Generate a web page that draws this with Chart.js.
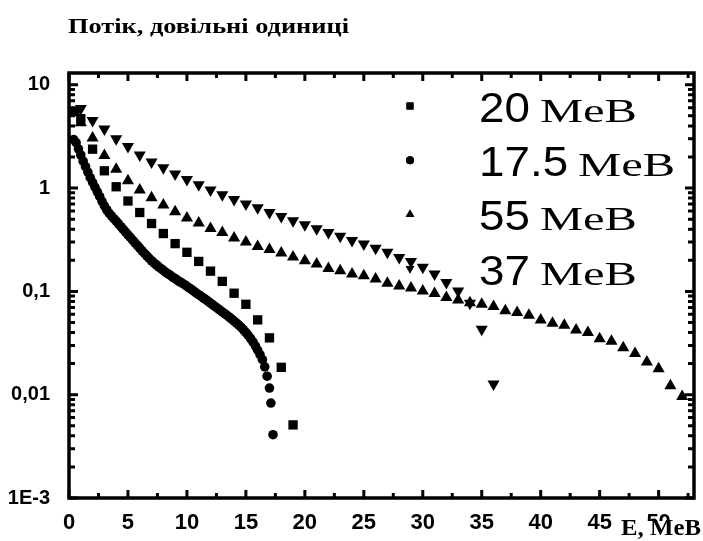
<!DOCTYPE html>
<html lang="uk">
<head>
    <meta charset="UTF-8">
    <title>Потік, довільні одиниці</title>
    <script src="https://cdn.jsdelivr.net/npm/chart.js"></script>
    <style>
        body { margin: 0; background: #fff; }
    </style>
</head>
<body>
    <canvas id="spectrum" width="703" height="541"></canvas>

    <script>
        // series: energy E (MeV) and flux (arb. units)
        const e20 = [0.5, 1, 2, 3, 4, 5, 6, 7, 8, 9, 10, 11, 12, 13, 14, 15, 16, 17, 18, 19];
        const flux20 = [5.5, 4.7, 2.38, 1.47, 1.03, 0.75, 0.58, 0.454, 0.363, 0.290, 0.239, 0.195, 0.157, 0.125, 0.096, 0.075, 0.053, 0.0355, 0.0184, 0.0051];

        const e175 = [0.4, 0.6, 0.8, 1.0, 1.2, 1.4, 1.6, 1.8, 2.0, 2.2, 2.4, 2.6, 2.8, 3.0, 3.2, 3.4, 3.6, 3.8, 4.0, 4.2,
                      4.4, 4.6, 4.8, 5.0, 5.2, 5.4, 5.6, 5.8, 6.0, 6.2, 6.4, 6.6, 6.8, 7.0, 7.2, 7.4, 7.6, 7.8, 8.0, 8.2,
                      8.4, 8.6, 8.8, 9.0, 9.2, 9.4, 9.6, 9.8, 10.0, 10.2, 10.4, 10.6, 10.8, 11.0, 11.2, 11.4, 11.6, 11.8, 12.0, 12.2,
                      12.4, 12.6, 12.8, 13.0, 13.2, 13.4, 13.6, 13.8, 14.0, 14.2, 14.4, 14.6, 14.8, 15.0, 15.2, 15.4, 15.6, 15.8, 16.0, 16.2,
                      16.4, 16.6, 16.8, 17.0, 17.12, 17.3];
        const flux175 = [2.95, 2.75, 2.40, 2.09, 1.82, 1.61, 1.43, 1.26, 1.135, 1.02, 0.92, 0.83, 0.745, 0.673, 0.617, 0.571, 0.537, 0.506, 0.479, 0.450,
                         0.423, 0.398, 0.375, 0.353, 0.333, 0.313, 0.295, 0.278, 0.262, 0.247, 0.233, 0.221, 0.209, 0.198, 0.189, 0.181, 0.173, 0.166, 0.160, 0.153,
                         0.148, 0.143, 0.137, 0.133, 0.128, 0.124, 0.120, 0.116, 0.112, 0.108, 0.104, 0.100, 0.0964, 0.0929, 0.0895, 0.0863, 0.0832, 0.0800, 0.0769, 0.0740,
                         0.0711, 0.0684, 0.0658, 0.0632, 0.0608, 0.0585, 0.0562, 0.0540, 0.0516, 0.0494, 0.0472, 0.0449, 0.0425, 0.0400, 0.0375, 0.0350, 0.0324, 0.0297, 0.0270, 0.0244,
                         0.0218, 0.0186, 0.0151, 0.0116, 0.0083, 0.0041];

        const e55 = [1, 2, 3, 4, 5, 6, 7, 8, 9, 10, 11, 12, 13, 14, 15, 16, 17, 18, 19, 20, 21, 22, 23, 24, 25, 26,
                     27, 28, 29, 30, 31, 32, 33, 34, 35, 36, 37, 38, 39, 40, 41, 42, 43, 44, 45, 46, 47, 48, 49, 50, 51, 52];
        const flux55 = [4.3, 3.05, 2.07, 1.52, 1.18, 0.96, 0.805, 0.684, 0.589, 0.514, 0.460, 0.406, 0.371, 0.329, 0.301, 0.272, 0.254, 0.235, 0.215, 0.198, 0.184, 0.167, 0.158, 0.147, 0.142, 0.132,
                        0.120, 0.113, 0.108, 0.101, 0.0955, 0.0873, 0.0826, 0.0776, 0.0752, 0.0713, 0.0648, 0.0624, 0.0588, 0.0528, 0.0491, 0.0470, 0.0423, 0.0399, 0.0348, 0.0330, 0.0285, 0.0251, 0.0207, 0.0178, 0.0122, 0.0096];

        const e37 = [1, 2, 3, 4, 5, 6, 7, 8, 9, 10, 11, 12, 13, 14, 15, 16, 17, 18, 19, 20, 21, 22, 23, 24, 25, 26, 27, 28, 29, 30, 31, 32, 33, 34, 35, 36];
        const flux37 = [5.9, 4.51, 3.73, 3.01, 2.52, 2.09, 1.79, 1.57, 1.37, 1.21, 1.08, 0.96, 0.86, 0.774, 0.703, 0.644, 0.579, 0.530, 0.484, 0.442, 0.404, 0.371, 0.342, 0.310, 0.288, 0.261, 0.239, 0.213, 0.195, 0.171, 0.147, 0.122, 0.101, 0.0767, 0.043, 0.0127];

        const seriesLabels = ['20 MeB', '17.5 MeB', '55 MeB', '37 MeB'];
        const yTicks = [0.001, 0.01, 0.1, 1, 10];
        const yTickLabels = ['1E-3', '0,01', '0,1', '1', '10'];
        const titleText = 'Потік, довільні одиниці';
        const xTitleText = 'E, MeB';

        const pts = (xs, ys) => xs.map((x, i) => ({ x: x, y: ys[i] }));

        // squeeze/stretch a string so it spans a given width
        function fitText(ctx, text, x, y, width) {
            const w = ctx.measureText(text).width;
            ctx.save();
            ctx.translate(x, y);
            ctx.scale(width / w, 1);
            ctx.fillText(text, 0, 0);
            ctx.restore();
            return width;
        }

        // box, inward ticks on all four sides, titles and legend
        const decorations = {
            id: 'decorations',
            afterDraw(chart) {
                const { ctx, chartArea: a, scales: { x, y } } = chart;
                ctx.save();
                ctx.strokeStyle = '#000';
                ctx.fillStyle = '#000';

                ctx.lineWidth = 3;
                ctx.beginPath();
                for (let v = 0; v <= 52.5; v += 2.5) {
                    const px = x.getPixelForValue(v);
                    const len = (v % 5 === 0) ? 8 : 5;
                    ctx.moveTo(px, a.bottom); ctx.lineTo(px, a.bottom - len);
                    ctx.moveTo(px, a.top); ctx.lineTo(px, a.top + len);
                }
                for (let d = 0.001; d < 20; d *= 10) {
                    for (let k = 1; k <= 9; k++) {
                        const v = d * k;
                        if (v > y.max) break;
                        const py = y.getPixelForValue(v);
                        const len = (k === 1) ? 9 : 6;
                        ctx.moveTo(a.left, py); ctx.lineTo(a.left + len, py);
                        ctx.moveTo(a.right, py); ctx.lineTo(a.right - len, py);
                    }
                }
                ctx.stroke();

                ctx.lineWidth = 3.5;
                ctx.strokeRect(a.left, a.top, a.right - a.left, a.bottom - a.top);

                ctx.textAlign = 'left';
                ctx.textBaseline = 'alphabetic';
                ctx.font = 'bold 22px "Liberation Serif"';
                fitText(ctx, titleText, 68, 33, 281);

                // axis name overlaps the lower half of the last tick label
                ctx.fillStyle = '#fff';
                ctx.fillRect(619, 521, 84, 20);
                ctx.fillStyle = '#000';
                ctx.font = 'bold 24px "Liberation Serif"';
                fitText(ctx, xTitleText, 621, 535, 80);

                // legend: number in sans, unit in serif
                chart.data.datasets.forEach((ds, i) => {
                    const base = 122 + i * 54.2;
                    Chart.helpers.drawPoint(ctx, {
                        pointStyle: ds.pointStyle,
                        rotation: ds.rotation || 0,
                        radius: ds.pointStyle === 'circle' ? 4 : 5,
                        borderWidth: 0
                    }, 410, base - 16);
                    ctx.fill();
                    const parts = ds.label.split(' ');
                    ctx.font = '42px "Liberation Sans"';
                    const nw = ctx.measureText(parts[0]).width * 1.09;
                    fitText(ctx, parts[0], 479, base, nw);
                    ctx.font = '34px "Liberation Serif"';
                    fitText(ctx, parts[1], 479 + nw + 10, base, 97);
                });
                ctx.restore();
            }
        };

        const ctx = document.getElementById('spectrum').getContext('2d');

        const chart = new Chart(ctx, {
            type: 'scatter',
            data: {
                datasets: [{
                    label: seriesLabels[0],
                    data: pts(e20, flux20),
                    pointStyle: 'rect',
                    pointRadius: 6.6,
                    backgroundColor: '#000',
                    borderWidth: 0
                }, {
                    label: seriesLabels[1],
                    data: pts(e175, flux175),
                    pointStyle: 'circle',
                    pointRadius: 4.8,
                    backgroundColor: '#000',
                    borderWidth: 0
                }, {
                    label: seriesLabels[2],
                    data: pts(e55, flux55),
                    pointStyle: 'triangle',
                    pointRadius: 7,
                    backgroundColor: '#000',
                    borderWidth: 0
                }, {
                    label: seriesLabels[3],
                    data: pts(e37, flux37),
                    pointStyle: 'triangle',
                    rotation: 180,
                    pointRadius: 7,
                    backgroundColor: '#000',
                    borderWidth: 0
                }]
            },
            options: {
                responsive: false,
                devicePixelRatio: 1,
                animation: false,
                events: [],
                layout: { padding: { top: 73, right: 9, left: 0, bottom: 0 } },
                plugins: {
                    legend: { display: false },
                    title: { display: false },
                    tooltip: { enabled: false }
                },
                scales: {
                    x: {
                        type: 'linear',
                        min: 0,
                        max: 53,
                        grid: { display: false },
                        border: { display: false },
                        ticks: {
                            stepSize: 5,
                            includeBounds: false,
                            maxRotation: 0,
                            padding: 4,
                            color: '#000',
                            font: { family: '"Liberation Sans Narrow", "Liberation Sans"', size: 22, weight: 'bold' }
                        },
                        afterFit: (scale) => { scale.height = 43; }
                    },
                    y: {
                        type: 'logarithmic',
                        min: 0.001,
                        max: 13,
                        grid: { display: false },
                        border: { display: false },
                        afterBuildTicks: (scale) => {
                            scale.ticks = yTicks.map(v => ({ value: v }));
                        },
                        ticks: {
                            padding: 11,
                            color: '#000',
                            font: { family: '"Liberation Sans"', size: 20, weight: 'bold' },
                            callback: (value) => yTickLabels[yTicks.indexOf(value)]
                        },
                        afterFit: (scale) => { scale.width = 69; }
                    }
                }
            },
            plugins: [decorations]
        });
    </script>
</body>
</html>
